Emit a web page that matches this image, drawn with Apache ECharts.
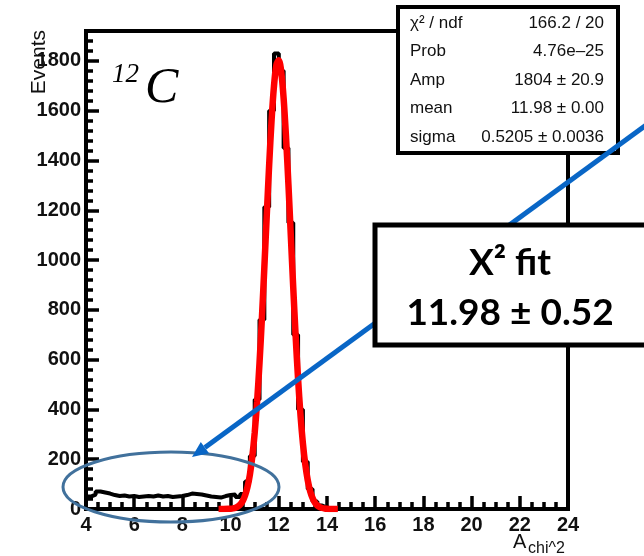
<!DOCTYPE html>
<html>
<head>
<meta charset="utf-8">
<script src="https://cdn.jsdelivr.net/npm/echarts@6/dist/echarts.min.js"></script>
<style>
  html, body { margin: 0; padding: 0; background: #fff; }
  #chart { width: 644px; height: 556px; }
</style>
</head>
<body>
<div id="chart"></div>
<script>
// Histogram of A_chi^2: 100 bins, width 0.2, from 4 to 24
const binLow = 4.0;
const binWidth = 0.2;
const binCounts = [
  50, 58, 70, 66, 62,   56, 52, 54, 50, 52,
  48, 50, 52, 50, 54,   50, 52, 48, 50, 52,
  56, 62, 60, 58, 54,   50, 48, 46, 52, 56,
  58, 48, 60, 110, 213, 440, 760, 1213, 1600, 1830,
  1760, 1450, 1150, 700, 400, 190, 80, 30, 14, 6,
  2, 0, 0, 0, 0,  0, 0, 0, 0, 0,
  0, 0, 0, 0, 0,  0, 0, 0, 0, 0,
  0, 0, 0, 0, 0,  0, 0, 0, 0, 0,
  0, 0, 0, 0, 0,  0, 0, 0, 0, 0,
  0, 0, 0, 0, 0,  0, 0, 0, 0, 0
];

// Gaussian fit curve, sampled over the fit range
const fitX = [9.5, 9.7, 9.9, 10.0, 10.1, 10.2, 10.3, 10.4, 10.5, 10.6, 10.7, 10.8, 10.9,
  11.0, 11.1, 11.2, 11.3, 11.4, 11.5, 11.6, 11.7, 11.8, 11.9,
  12.0, 12.1, 12.2, 12.3, 12.4, 12.5, 12.6, 12.7, 12.8, 12.9,
  13.0, 13.1, 13.2, 13.3, 13.4, 13.5, 13.6, 13.7, 13.8, 13.9,
  14.0, 14.1, 14.2, 14.3, 14.45];
const fitY = [0, 0, 0.6, 1.3, 2.7, 5.2, 9.9, 18, 31.6, 54, 88, 138, 210,
  306, 432, 587, 769, 970, 1179, 1382, 1561, 1699, 1783,
  1803, 1757, 1650, 1493, 1303, 1095, 888, 693, 522, 378,
  264, 178, 116, 72, 44, 25, 14, 7.7, 4, 2,
  1, 0.4, 0, 0, 0];

// Axis ranges
const xMin = 4, xMax = 24, xStep = 2;
const yMin = 0, yMax = 1920, yStep = 200;

// Fit statistics box
const statNames = ['\u03c7\u00b2 / ndf', 'Prob', 'Amp', 'mean', 'sigma'];
const statValues = ['166.2 / 20', '4.76e\u201325', '1804 \u00b1 20.9', '11.98 \u00b1 0.00', '0.5205 \u00b1 0.0036'];

// Callout text
const calloutTitle = 'X\u00b2 fit';
const calloutValue = '11.98 \u00b1 0.52';

const histData = binCounts.map((c, i) => [+(binLow + i * binWidth).toFixed(2), c]);
histData.push([+(binLow + binCounts.length * binWidth).toFixed(2), binCounts[binCounts.length - 1]]);
const fitData = fitX.map((x, i) => [x, fitY[i]]);

const chart = echarts.init(document.getElementById('chart'), null, { renderer: 'canvas' });

const labelFont = {
  fontFamily: 'Liberation Sans', fontSize: 20, fontWeight: 'bold', color: '#111',
  formatter: v => String(v)
};

const graphics = [];

// stats box
const boxX = 398, boxY = 7, boxW = 220, boxH = 146;
graphics.push({
  type: 'rect', z: 110,
  shape: { x: boxX, y: boxY, width: boxW, height: boxH },
  style: { fill: '#fff', stroke: '#000', lineWidth: 4 }
});
statNames.forEach((name, i) => {
  const cy = 23 + i * 28.6;
  graphics.push({
    type: 'text', z: 111, x: 410, y: cy,
    style: { text: name, fontFamily: 'Liberation Sans', fontSize: 17, fill: '#111', align: 'left', verticalAlign: 'middle' }
  });
  graphics.push({
    type: 'text', z: 111, x: 604, y: cy,
    style: { text: statValues[i], fontFamily: 'Liberation Sans', fontSize: 17, fill: '#111', align: 'right', verticalAlign: 'middle' }
  });
});

// ellipse around the low-A region
graphics.push({
  type: 'ellipse', z: 105,
  shape: { cx: 171, cy: 487, rx: 108, ry: 35 },
  style: { fill: 'none', stroke: '#41719c', lineWidth: 3 }
});

// arrow from the callout down to the ellipse
const ax0 = 660, ay0 = 115, ax1 = 192, ay1 = 457;
const ang = Math.atan2(ay1 - ay0, ax1 - ax0);
const headLen = 16, headHalf = 7;
const bx = ax1 - headLen * Math.cos(ang), by = ay1 - headLen * Math.sin(ang);
graphics.push({
  type: 'line', z: 115,
  shape: { x1: ax0, y1: ay0, x2: bx, y2: by },
  style: { stroke: '#0966c6', lineWidth: 5 }
});
graphics.push({
  type: 'polygon', z: 115,
  shape: { points: [
    [ax1, ay1],
    [bx + headHalf * Math.sin(ang), by - headHalf * Math.cos(ang)],
    [bx - headHalf * Math.sin(ang), by + headHalf * Math.cos(ang)]
  ] },
  style: { fill: '#0966c6' }
});

// callout box
graphics.push({
  type: 'rect', z: 120,
  shape: { x: 375, y: 225, width: 280, height: 120 },
  style: { fill: '#fff', stroke: '#000', lineWidth: 5 }
});
graphics.push({
  type: 'text', z: 121, x: 510, y: 263,
  style: { text: calloutTitle, fontFamily: 'Lato', fontWeight: 'bold', fontSize: 37, fill: '#000', align: 'center', verticalAlign: 'middle' }
});
graphics.push({
  type: 'text', z: 121, x: 510, y: 313,
  style: { text: calloutValue, fontFamily: 'Lato', fontWeight: 'bold', fontSize: 37, fill: '#000', align: 'center', verticalAlign: 'middle' }
});

// nucleus label
graphics.push({
  type: 'text', z: 101, x: 112, y: 75,
  style: { text: '12', fontFamily: 'Liberation Serif', fontStyle: 'italic', fontSize: 27, fill: '#000', align: 'left', verticalAlign: 'middle' }
});
graphics.push({
  type: 'text', z: 101, x: 145, y: 89,
  style: { text: 'C', fontFamily: 'Liberation Serif', fontStyle: 'italic', fontSize: 50, fill: '#000', align: 'left', verticalAlign: 'middle' }
});

// axis titles
graphics.push({
  type: 'text', z: 101, x: 39, y: 30, rotation: Math.PI / 2,
  style: { text: 'Events', fontFamily: 'Liberation Sans', fontSize: 21, fill: '#111', align: 'right', verticalAlign: 'middle' }
});
graphics.push({
  type: 'text', z: 101, x: 513, y: 542,
  style: { text: 'A', fontFamily: 'Liberation Sans', fontSize: 20, fill: '#111', align: 'left', verticalAlign: 'middle' }
});
graphics.push({
  type: 'text', z: 101, x: 528, y: 549,
  style: { text: 'chi^2', fontFamily: 'Liberation Sans', fontSize: 16, fill: '#111', align: 'left', verticalAlign: 'middle' }
});

const option = {
  animation: false,
  backgroundColor: '#fff',
  grid: {
    left: 86, right: 76, top: 31, bottom: 47,
    show: true, borderColor: '#000', borderWidth: 4, backgroundColor: 'transparent'
  },
  xAxis: {
    type: 'value', min: xMin, max: xMax, interval: xStep,
    axisLine: { show: true, lineStyle: { color: '#000', width: 4 } },
    axisTick: { show: true, inside: true, length: 13, lineStyle: { color: '#000', width: 3.5 } },
    minorTick: { show: true, splitNumber: 4, length: 7, lineStyle: { color: '#000', width: 3.5 } },
    axisLabel: Object.assign({ margin: 6 }, labelFont),
    splitLine: { show: false }
  },
  yAxis: {
    type: 'value', min: yMin, max: yMax, interval: yStep,
    axisLine: { show: true, lineStyle: { color: '#000', width: 4 } },
    axisTick: { show: true, inside: true, length: 13, lineStyle: { color: '#000', width: 3.5 } },
    minorTick: { show: true, splitNumber: 5, length: 7, lineStyle: { color: '#000', width: 3.5 } },
    axisLabel: Object.assign({ margin: 5, showMaxLabel: false }, labelFont),
    splitLine: { show: false }
  },
  series: [
    {
      type: 'line', name: 'hist', data: histData, step: 'end',
      showSymbol: false, symbol: 'none',
      lineStyle: { color: '#000', width: 4 }, z: 3
    },
    {
      type: 'line', name: 'fit', data: fitData, smooth: 0.3,
      showSymbol: false, symbol: 'none',
      lineStyle: { color: '#ff0000', width: 6.5 }, z: 4
    }
  ],
  graphic: { elements: graphics }
};

chart.setOption(option);
</script>
</body>
</html>
